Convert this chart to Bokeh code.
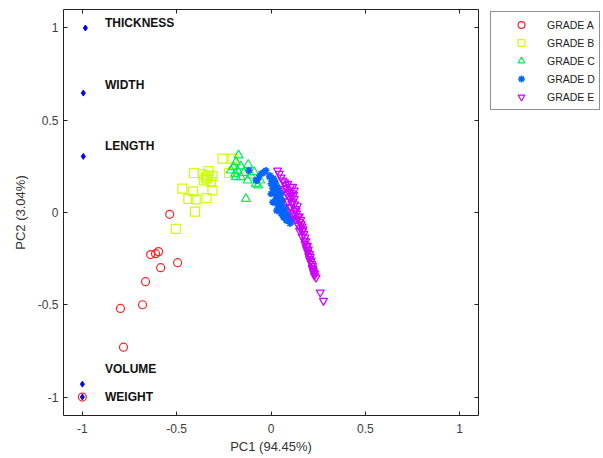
from bokeh.plotting import figure
from bokeh.layouts import row
from bokeh.models import Legend, LegendItem, LinearAxis, FixedTicker, Range1d
from bokeh.core.properties import value
from bokeh.embed import file_html
from bokeh.resources import INLINE

ticks = [-1, -0.5, 0, 0.5, 1]
tick_labels = ["-1", "-0.5", "0", "0.5", "1"]

# Loadings (variables)
var_names = ["THICKNESS", "WIDTH", "LENGTH", "VOLUME", "WEIGHT"]
var_x = [-0.984, -0.995, -0.995, -1.0, -1.0]
var_y = [1.0, 0.647, 0.304, -0.93, -1.0]
label_x = [-0.88, -0.88, -0.88, -0.88, -0.88]
label_y = [1.025, 0.69, 0.36, -0.85, -1.0]

grades = ["GRADE A", "GRADE B", "GRADE C", "GRADE D", "GRADE E"]

gradeA_x = [-0.537, -0.638, -0.612, -0.596, -0.585, -0.495, -0.665, -0.681, -0.798, -0.782, -1.0]
gradeA_y = [-0.01, -0.228, -0.223, -0.212, -0.299, -0.272, -0.375, -0.5, -0.52, -0.73, -1.0]

gradeB_x = [-0.257, -0.204, -0.408, -0.363, -0.331, -0.310, -0.355, -0.340, -0.319, -0.470,
            -0.413, -0.310, -0.438, -0.399, -0.342, -0.403, -0.505, -0.222, -0.345, -0.335]
gradeB_y = [0.292, 0.292, 0.214, 0.207, 0.224, 0.197, 0.174, 0.183, 0.165, 0.129,
            0.114, 0.120, 0.074, 0.071, 0.078, 0.005, -0.089, 0.214, 0.19, 0.2]

gradeC_x = [-0.172, -0.199, -0.186, -0.177, -0.160, -0.121, -0.124, -0.089, -0.080, -0.068,
            -0.057, -0.133, -0.186, -0.160, -0.106, -0.213, -0.19, -0.145]
gradeC_y = [0.31, 0.246, 0.273, 0.228, 0.25, 0.259, 0.174, 0.219, 0.156, 0.147,
            0.174, 0.074, 0.192, 0.192, 0.201, 0.228, 0.21, 0.215]

gradeD_x = [-0.117, -0.074, -0.065, -0.043, -0.027, -0.035, -0.053, -0.080, -0.009, 0.000,
            0.018, 0.009, 0.035, 0.000, 0.027, 0.053, 0.009, 0.035, 0.062, 0.044,
            0.071, 0.053, 0.089, 0.080, 0.106, 0.115, 0.027, 0.018, 0.040, 0.050,
            0.060, 0.030, 0.005, 0.015, 0.045, 0.075, 0.065, 0.095, 0.022, 0.038,
            0.010, 0.020, 0.030, 0.040, 0.050, 0.055, 0.065, 0.070, 0.080, 0.085,
            0.095, 0.100, 0.025, 0.012, -0.005, 0.030, 0.045, 0.060]
gradeD_y = [0.228, 0.174, 0.19, 0.214, 0.228, 0.22, 0.21, 0.174, 0.192, 0.156,
            0.174, 0.129, 0.138, 0.101, 0.092, 0.101, 0.056, 0.056, 0.065, 0.029,
            0.02, -0.007, -0.016, -0.043, -0.053, -0.034, 0.074, 0.11, 0.12, 0.08,
            0.04, 0.01, 0.17, 0.145, 0.085, 0.005, -0.025, -0.02, 0.125, 0.03,
            0.14, 0.12, 0.105, 0.095, 0.07, 0.05, 0.03, 0.005, -0.005, -0.03,
            -0.045, -0.06, 0.16, 0.185, 0.2, 0.05, 0.045, 0.015]

gradeE_x = [0.035, 0.044, 0.053, 0.071, 0.089, 0.115, 0.124, 0.062, 0.080, 0.071,
            0.097, 0.106, 0.085, 0.097, 0.124, 0.090, 0.110, 0.100, 0.106, 0.130,
            0.133, 0.120, 0.115, 0.142, 0.130, 0.150, 0.160, 0.145, 0.155, 0.151,
            0.168, 0.174, 0.165, 0.177, 0.180, 0.186, 0.190, 0.195, 0.200, 0.204,
            0.210, 0.216, 0.220, 0.222, 0.226, 0.230, 0.239, 0.261, 0.278,
            0.075, 0.103, 0.110, 0.120, 0.115, 0.125, 0.140, 0.135, 0.150, 0.158,
            0.165, 0.170, 0.180, 0.185, 0.193, 0.198, 0.205, 0.208, 0.213, 0.218,
            0.224, 0.232]
gradeE_y = [0.228, 0.21, 0.19, 0.165, 0.156, 0.14, 0.12, 0.174, 0.13, 0.129,
            0.11, 0.09, 0.1, 0.083, 0.074, 0.06, 0.05, 0.03, 0.029, 0.02,
            0.011, 0.0, -0.016, -0.025, -0.035, -0.05, -0.062, -0.07, -0.085, -0.098,
            -0.1, -0.116, -0.13, -0.152, -0.17, -0.188, -0.2, -0.216, -0.235, -0.252,
            -0.265, -0.279, -0.29, -0.306, -0.325, -0.342, -0.352, -0.433, -0.478,
            0.15, 0.138, 0.105, 0.095, 0.06, 0.045, 0.035, -0.005, -0.02, -0.04,
            -0.075, -0.09, -0.135, -0.155, -0.18, -0.2, -0.225, -0.24, -0.26, -0.3,
            -0.315, -0.33]

FONT = "Liberation Sans"

styles = [dict(marker="circle", size=8, fill_color=None, line_color="#ff2020", line_width=1.2),
          dict(marker="square", size=9, fill_color=None, line_color="#ccff00", line_width=1.2),
          dict(marker="triangle", size=9, fill_color=None, line_color="#00ee55", line_width=1.2),
          dict(marker="asterisk", size=7, line_color="#0066ff", line_width=1.6),
          dict(marker="inverted_triangle", size=8, fill_color=None, line_color="#cc00ff", line_width=1.2)]

p = figure(width=479, height=458, x_range=Range1d(-1.1, 1.1), y_range=Range1d(-1.1, 1.1),
           output_backend="svg", toolbar_location=None,
           min_border_left=63, min_border_right=1, min_border_top=9, min_border_bottom=43)
p.grid.visible = False
p.outline_line_color = "#222222"
p.outline_line_width = 1

for ax in [p.xaxis[0], p.yaxis[0]]:
    ax.ticker = FixedTicker(ticks=ticks)
    ax.major_label_overrides = dict(zip(ticks, tick_labels))
    ax.axis_line_color = None
    ax.major_tick_in = 4
    ax.major_tick_out = 0
    ax.major_tick_line_color = "#222222"
    ax.minor_tick_line_color = None
    ax.major_label_text_font = FONT
    ax.major_label_text_font_size = "12px"
    ax.major_label_text_color = "#404040"
    ax.axis_label_text_font = FONT
    ax.axis_label_text_font_size = "13px"
    ax.axis_label_text_font_style = "normal"
    ax.axis_label_text_color = "#333333"

p.xaxis.axis_label = "PC1 (94.45%)"
p.yaxis.axis_label = "PC2 (3.04%)"
p.xaxis.major_label_standoff = 8
p.xaxis.axis_label_standoff = 3
p.yaxis.major_label_standoff = 5
p.yaxis.axis_label_standoff = 7

for side in ["above", "right"]:
    a = LinearAxis(ticker=FixedTicker(ticks=ticks), major_label_text_font_size="0px",
                   major_label_text_color=None,
                   major_label_standoff=0, axis_line_color=None, major_tick_in=4,
                   major_tick_out=0, minor_tick_line_color=None,
                   major_tick_line_color="#222222")
    p.add_layout(a, side)

data = [(gradeA_x, gradeA_y), (gradeB_x, gradeB_y), (gradeC_x, gradeC_y),
        (gradeD_x, gradeD_y), (gradeE_x, gradeE_y)]
for (xs, ys), st in zip(data, styles):
    p.scatter(xs, ys, **st)

p.scatter(var_x, var_y, marker="diamond", size=6, fill_color="#0000ff", line_color="#0000ff")
p.text(label_x, label_y, text=var_names, text_font=value(FONT), text_font_size="12px",
       text_font_style="bold", text_baseline="middle", text_align="left", text_color="#111111")

# Legend panel: separate figure to the right of the axes box; its view range lies
# outside the data, so only the legend shows.
pl = figure(width=124, height=458, x_range=Range1d(10, 11), y_range=Range1d(10, 11),
            output_backend="svg", toolbar_location=None, x_axis_location=None,
            y_axis_location=None, min_border=0, min_border_left=9, title=None)
pl.grid.visible = False
pl.outline_line_color = None
items = []
for g, (xs, ys), st in zip(grades, data, styles):
    st_small = dict(st, size=7)
    r = pl.scatter(xs, ys, **st_small)
    items.append(LegendItem(label=g, renderers=[r]))
legend = Legend(items=items, location="top_left", margin=2, padding=4, spacing=1,
                glyph_width=52, glyph_height=17, label_height=17, label_standoff=0,
                label_text_font=FONT, label_text_font_size="10.5px", label_text_color="#222222",
                border_line_color="#222222", border_line_width=1, background_fill_alpha=1)
pl.add_layout(legend, "center")

layout = row(p, pl, spacing=0)
open("out.html", "w").write(file_html(layout, INLINE))
